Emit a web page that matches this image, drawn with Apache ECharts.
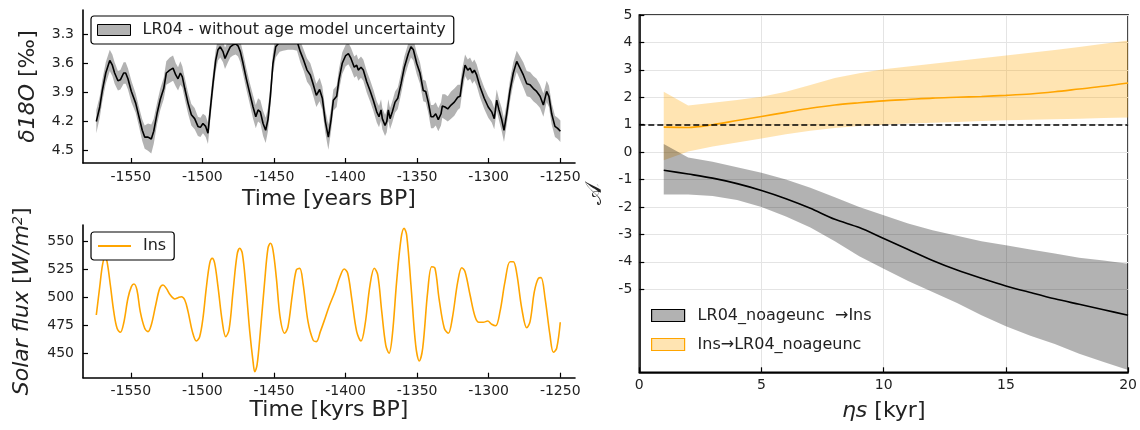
<!DOCTYPE html>
<html><head><meta charset="utf-8">
<script src="https://cdn.jsdelivr.net/npm/echarts@6/dist/echarts.min.js"></script>
<style>html,body{margin:0;padding:0;background:#fff}#c{width:1140px;height:430px}</style>
</head><body><div id="c"></div>
<script>
// ---------- DATA ----------
// LR04 d18O: [year BP (kyr), mean, half-width of uncertainty band]
const lr04 = [
[-1574.1,4.20,0.12],[-1571.7,4.05,0.11],[-1569.9,3.88,0.11],[-1567.5,3.70,0.11],[-1564.7,3.57,0.11],
[-1562.9,3.62,0.11],[-1561.3,3.70,0.11],[-1559.0,3.78,0.10],[-1557.3,3.77,0.10],[-1555.0,3.70,0.11],
[-1553.6,3.70,0.11],[-1552.0,3.76,0.11],[-1549.6,3.89,0.11],[-1546.6,4.01,0.10],[-1544.3,4.15,0.10],
[-1542.0,4.29,0.11],[-1540.3,4.36,0.12],[-1538.0,4.36,0.14],[-1535.7,4.38,0.15],[-1534.0,4.30,0.13],
[-1531.7,4.12,0.11],[-1529.4,3.97,0.11],[-1527.0,3.86,0.11],[-1525.2,3.70,0.12],[-1522.8,3.67,0.13],
[-1520.5,3.65,0.13],[-1518.6,3.72,0.12],[-1517.0,3.76,0.12],[-1515.4,3.70,0.12],[-1514.0,3.74,0.11],
[-1512.3,3.86,0.11],[-1510.0,4.01,0.11],[-1507.7,4.13,0.11],[-1505.4,4.17,0.11],[-1503.1,4.25,0.10],
[-1501.4,4.26,0.10],[-1499.6,4.22,0.10],[-1497.7,4.25,0.11],[-1496.1,4.32,0.11],[-1494.5,4.08,0.11],
[-1492.6,3.81,0.11],[-1490.7,3.57,0.11],[-1489.1,3.46,0.11],[-1487.5,3.43,0.11],[-1485.6,3.48,0.11],
[-1484.2,3.55,0.11],[-1482.1,3.48,0.11],[-1480.5,3.43,0.11],[-1478.6,3.41,0.11],[-1476.7,3.40,0.11],
[-1475.1,3.42,0.11],[-1473.5,3.48,0.11],[-1471.6,3.60,0.11],[-1469.3,3.76,0.11],[-1466.9,3.91,0.11],
[-1464.6,4.05,0.12],[-1462.7,4.15,0.12],[-1461.1,4.08,0.12],[-1459.5,4.10,0.12],[-1457.6,4.22,0.13],
[-1455.8,4.29,0.13],[-1454.2,4.18,0.12],[-1452.5,3.94,0.11],[-1450.7,3.60,0.11],[-1448.8,3.43,0.11],
[-1446.0,3.38,0.10],[-1443.7,3.37,0.10],[-1440.2,3.36,0.10],[-1436.7,3.36,0.10],[-1433.9,3.37,0.10],
[-1431.6,3.48,0.11],[-1429.2,3.57,0.11],[-1426.9,3.67,0.12],[-1424.6,3.72,0.12],[-1422.7,3.81,0.12],
[-1420.4,3.93,0.12],[-1418.1,3.87,0.12],[-1416.2,3.96,0.12],[-1414.1,4.20,0.12],[-1412.0,4.36,0.13],
[-1410.1,4.18,0.12],[-1408.5,3.98,0.11],[-1406.2,3.94,0.11],[-1404.6,3.77,0.11],[-1402.3,3.60,0.11],
[-1399.9,3.52,0.11],[-1398.0,3.50,0.11],[-1396.2,3.55,0.11],[-1393.9,3.64,0.11],[-1392.2,3.62,0.11],
[-1391.1,3.67,0.11],[-1389.2,3.64,0.11],[-1387.6,3.67,0.11],[-1385.2,3.79,0.11],[-1382.9,3.88,0.11],
[-1380.6,3.98,0.11],[-1378.2,4.10,0.11],[-1376.6,4.15,0.11],[-1375.2,4.08,0.11],[-1374.3,4.17,0.11],
[-1372.4,4.24,0.11],[-1371.2,4.20,0.11],[-1370.1,4.08,0.11],[-1368.9,4.17,0.11],[-1367.3,4.10,0.11],
[-1365.4,4.00,0.11],[-1363.5,3.96,0.11],[-1361.2,3.81,0.11],[-1358.9,3.64,0.11],[-1356.1,3.50,0.11],
[-1354.3,3.43,0.11],[-1352.6,3.46,0.11],[-1350.3,3.60,0.11],[-1348.0,3.70,0.11],[-1345.7,3.88,0.11],
[-1344.0,3.89,0.11],[-1342.2,4.00,0.11],[-1340.3,4.15,0.12],[-1338.7,4.15,0.12],[-1337.0,4.12,0.12],
[-1335.2,4.18,0.12],[-1333.3,4.12,0.12],[-1332.4,4.04,0.12],[-1330.5,4.05,0.13],[-1328.6,4.07,0.13],
[-1326.3,4.03,0.14],[-1324.0,4.00,0.14],[-1321.6,3.95,0.13],[-1320.0,3.94,0.12],[-1318.4,3.77,0.12],
[-1316.5,3.62,0.11],[-1314.6,3.67,0.11],[-1313.0,3.65,0.11],[-1311.4,3.70,0.11],[-1310.0,3.67,0.11],
[-1308.4,3.72,0.11],[-1306.1,3.84,0.11],[-1303.1,3.96,0.11],[-1300.3,4.05,0.11],[-1297.9,4.10,0.11],
[-1296.1,4.17,0.11],[-1294.4,3.98,0.11],[-1292.8,4.08,0.11],[-1290.9,4.18,0.12],[-1289.3,4.29,0.12],
[-1287.4,4.12,0.11],[-1285.1,3.88,0.11],[-1282.8,3.70,0.11],[-1280.4,3.58,0.11],[-1278.1,3.65,0.12],
[-1275.8,3.72,0.13],[-1273.4,3.81,0.13],[-1271.1,3.82,0.13],[-1268.8,3.86,0.13],[-1266.5,3.89,0.13],
[-1264.1,3.94,0.12],[-1261.8,4.03,0.12],[-1259.5,3.89,0.11],[-1257.9,3.94,0.11],[-1256.0,4.12,0.11],
[-1253.7,4.25,0.11],[-1251.8,4.27,0.11],[-1249.9,4.30,0.11]
];
// Insolation: [year BP (kyr), W/m^2]
const ins = [
[-1574.1,484.3],[-1571.7,509.7],[-1569.8,529.1],[-1568.0,536.6],[-1566.6,532.1],[-1564.3,511.2],
[-1561.9,487.3],[-1559.6,472.4],[-1557.3,468.8],[-1555.0,476.9],[-1552.0,499.3],[-1549.6,509.7],
[-1547.8,512.1],[-1545.7,506.7],[-1543.4,487.3],[-1540.3,472.4],[-1538.0,469.4],[-1535.7,475.4],
[-1532.6,493.3],[-1529.8,508.2],[-1527.5,511.2],[-1525.2,508.2],[-1522.4,502.2],[-1519.3,498.7],
[-1517.0,499.8],[-1514.7,500.7],[-1512.3,497.8],[-1510.0,487.3],[-1507.0,469.4],[-1504.2,461.0],
[-1501.9,464.9],[-1499.6,481.4],[-1497.3,508.2],[-1494.9,530.6],[-1493.1,535.1],[-1491.4,530.6],
[-1489.1,509.7],[-1486.1,478.3],[-1483.7,464.9],[-1481.4,470.9],[-1478.6,505.2],[-1475.8,538.1],
[-1473.9,544.1],[-1472.1,539.6],[-1469.7,511.2],[-1466.9,469.4],[-1464.6,442.5],[-1463.4,433.5],
[-1461.8,439.5],[-1459.5,469.4],[-1456.5,514.2],[-1454.2,544.1],[-1452.5,548.6],[-1450.7,542.6],
[-1448.3,517.2],[-1445.6,481.4],[-1442.5,467.9],[-1440.2,473.8],[-1437.2,502.2],[-1434.4,524.6],
[-1432.0,526.1],[-1429.7,512.7],[-1426.2,478.3],[-1422.7,461.9],[-1420.4,460.4],[-1417.6,469.4],
[-1414.4,481.0],[-1411.5,492.0],[-1407.4,505.2],[-1403.9,518.6],[-1400.9,525.5],[-1398.5,521.7],
[-1395.7,499.3],[-1392.2,469.4],[-1389.2,461.0],[-1386.4,475.4],[-1382.9,511.2],[-1379.9,526.2],
[-1377.5,520.2],[-1374.7,487.3],[-1371.9,457.4],[-1369.6,450.0],[-1367.3,466.4],[-1364.3,514.2],
[-1361.2,553.0],[-1359.1,562.0],[-1357.3,556.0],[-1354.3,511.2],[-1351.0,457.4],[-1348.5,443.1],
[-1346.1,454.5],[-1342.6,505.2],[-1339.8,527.6],[-1337.5,526.2],[-1334.7,499.3],[-1331.0,472.4],
[-1328.2,467.9],[-1325.4,481.4],[-1321.6,514.2],[-1318.8,526.7],[-1316.5,523.1],[-1313.0,502.2],
[-1309.5,482.8],[-1306.8,477.8],[-1303.8,477.8],[-1300.7,478.9],[-1297.9,476.0],[-1295.1,474.7],
[-1292.1,487.3],[-1288.6,514.2],[-1285.1,532.1],[-1282.8,532.1],[-1280.4,521.7],[-1276.9,490.3],
[-1273.4,472.9],[-1271.1,478.3],[-1268.1,505.2],[-1265.3,517.2],[-1263.4,517.8],[-1260.6,499.3],
[-1257.2,466.4],[-1254.8,450.9],[-1252.5,454.5],[-1250.0,477.8]
];
// Transfer entropy vs eta_s (kyr)
const eta = [1,2,3,4,5,6,7,8,9,10,11,12,13,14,15,16,17,18,19,20];
const lr04ToIns    = [-0.66,-0.80,-0.95,-1.15,-1.40,-1.70,-2.05,-2.45,-2.75,-3.15,-3.55,-3.95,-4.30,-4.60,-4.88,-5.12,-5.35,-5.55,-5.75,-5.95];
const lr04ToInsHi  = [0.30,-0.20,-0.35,-0.55,-0.75,-1.00,-1.30,-1.65,-2.00,-2.30,-2.60,-2.85,-3.05,-3.25,-3.40,-3.55,-3.70,-3.85,-3.95,-4.07];
const lr04ToInsLo  = [-1.55,-1.55,-1.60,-1.75,-2.00,-2.35,-2.75,-3.25,-3.80,-4.25,-4.70,-5.10,-5.50,-5.95,-6.35,-6.70,-7.00,-7.35,-7.65,-7.95];
const insToLr04    = [0.91,0.90,1.00,1.15,1.30,1.45,1.60,1.72,1.80,1.87,1.92,1.97,2.00,2.03,2.07,2.12,2.20,2.30,2.40,2.52];
const insToLr04Hi  = [2.20,1.70,1.80,1.90,2.02,2.20,2.45,2.70,2.88,3.02,3.12,3.22,3.32,3.42,3.52,3.62,3.72,3.83,3.95,4.07];
const insToLr04Lo  = [-0.30,0.02,0.20,0.35,0.50,0.65,0.78,0.88,0.95,1.00,1.04,1.07,1.10,1.13,1.16,1.18,1.20,1.22,1.24,1.26];
const timeTicks = [-1550,-1500,-1450,-1400,-1350,-1300,-1250];
const d18oTicks = [3.3,3.6,3.9,4.2,4.5];
const insTicks = [450,475,500,525,550];
const teTicks = [-5,-4,-3,-2,-1,0,1,2,3,4,5];
const teThreshold = 1;

// ---------- CHART ----------
const FONT = 'DejaVu Sans';
const TXT = '#222';
const ORANGE = '#FFA500';
const ORANGE_FILL = 'rgba(255,165,0,0.3)';
const GRAY_FILL = 'rgba(0,0,0,0.3)';

function band(name, xs, lo, hi, fill, gi) {
  return {
    type: 'custom', name: name, xAxisIndex: gi, yAxisIndex: gi, silent: true, z: 1,
    itemStyle: {color: fill},
    data: xs.map((x, i) => [x, lo[i], hi[i]]),
    encode: {x: 0, y: [1, 2]},
    renderItem: function (params, api) {
      if (params.dataIndex !== 0) return null;
      const pts = [];
      for (let i = 0; i < xs.length; i++) pts.push(api.coord([xs[i], hi[i]]));
      for (let i = xs.length - 1; i >= 0; i--) pts.push(api.coord([xs[i], lo[i]]));
      return {type: 'polygon', shape: {points: pts}, style: {fill: fill}};
    }
  };
}

const axLine = {show: true, onZero: false, lineStyle: {color: '#000', width: 1.6}};
function tick(vals) { return {show: true, inside: true, length: 5, customValues: vals, lineStyle: {color: '#000', width: 1.2}}; }
function lab(vals, margin, fmt) { return {customValues: vals, margin: margin, fontSize: 14, color: TXT, fontFamily: FONT, formatter: fmt}; }

const lrYears = lr04.map(d => d[0]);
const lrLo = lr04.map(d => d[1] - d[2]);
const lrHi = lr04.map(d => d[1] + d[2]);

const LEG1 = 'LR04 - without age model uncertainty';
const LEG3a = 'LR04_noageunc  \u2192Ins';
const LEG3b = 'Ins\u2192LR04_noageunc';
const NAME_FS = 22;
const italic = {fontSize: NAME_FS, fontStyle: 'italic', color: TXT, fontFamily: FONT};

const option = {
  animation: false,
  textStyle: {fontFamily: FONT},
  grid: [
    {left: 83, top: 10, width: 492, height: 153},
    {left: 83, top: 225, width: 492, height: 152.7},
    {left: 639.3, top: 15, width: 490.7, height: 357.3, show: true, borderColor: '#000', borderWidth: 1.6}
  ],
  xAxis: [
    {type: 'value', gridIndex: 0, min: -1583.4, max: -1239.7, axisLine: axLine, axisTick: tick(timeTicks),
     axisLabel: lab(timeTicks, 7, v => String(v)), splitLine: {show: false},
     name: 'Time [years BP]', nameLocation: 'middle', nameGap: 25,
     nameTextStyle: {fontSize: NAME_FS, color: TXT, fontFamily: FONT}},
    {type: 'value', gridIndex: 1, min: -1583.4, max: -1239.7, axisLine: axLine, axisTick: tick(timeTicks),
     axisLabel: lab(timeTicks, 7, v => String(v)), splitLine: {show: false},
     name: 'Time [kyrs BP]', nameLocation: 'middle', nameGap: 21,
     nameTextStyle: {fontSize: NAME_FS, color: TXT, fontFamily: FONT}},
    {type: 'value', gridIndex: 2, min: 0, max: 20, interval: 5, axisLine: axLine,
     axisTick: {show: true, inside: true, length: 5, lineStyle: {color: '#000', width: 1.2}},
     axisLabel: {margin: 6, fontSize: 14, color: TXT, fontFamily: FONT},
     splitLine: {show: true, lineStyle: {color: '#e4e4e4', width: 1}},
     name: '{i|\u03b7s} [kyr]', nameLocation: 'middle', nameGap: 28,
     nameTextStyle: {fontSize: NAME_FS, color: TXT, fontFamily: FONT, rich: {i: italic}}}
  ],
  yAxis: [
    {type: 'value', gridIndex: 0, inverse: true, min: 3.051, max: 4.627, axisLine: axLine, axisTick: tick(d18oTicks),
     axisLabel: lab(d18oTicks, 9, v => v.toFixed(1)), splitLine: {show: false},
     name: '{i|\u03b418O} [\u2030]', nameLocation: 'middle', nameGap: 44,
     nameTextStyle: {fontSize: NAME_FS, color: TXT, fontFamily: FONT, rich: {i: italic}}},
    {type: 'value', gridIndex: 1, min: 428.1, max: 565.0, axisLine: axLine, axisTick: tick(insTicks),
     axisLabel: lab(insTicks, 9, v => String(v)), splitLine: {show: false},
     name: '{i|Solar flux} [{i|W/m}{s|2}]', nameLocation: 'middle', nameGap: 50,
     nameTextStyle: {fontSize: NAME_FS, color: TXT, fontFamily: FONT,
       rich: {i: italic,
              s: {fontSize: 14, fontStyle: 'italic', color: TXT, fontFamily: FONT, verticalAlign: 'top', lineHeight: 13}}}},
    {type: 'value', gridIndex: 2, min: -8.03, max: 5, axisLine: axLine, axisTick: tick(teTicks),
     axisLabel: lab(teTicks, 7, v => String(v)),
     splitLine: {show: true, customValues: teTicks, lineStyle: {color: '#e4e4e4', width: 1}},
     name: '\ud835\udc9c', nameLocation: 'middle', nameGap: 33,
     nameTextStyle: {fontSize: 23, color: TXT, fontFamily: FONT}}
  ],
  legend: [
    {left: 91, top: 16, itemWidth: 33, itemHeight: 11, backgroundColor: '#fff', borderColor: '#000', borderWidth: 1.2,
     borderRadius: 3, padding: [6, 8, 6, 6], z: 10, selectedMode: false,
     textStyle: {fontSize: 16, color: TXT, fontFamily: FONT, padding: [0, 0, 0, 7]},
     data: [{name: LEG1, icon: 'rect', itemStyle: {color: GRAY_FILL, borderColor: '#000', borderWidth: 1}}]},
    {left: 91, top: 232, itemWidth: 33, itemHeight: 11, backgroundColor: '#fff', borderColor: '#000', borderWidth: 1.2,
     borderRadius: 3, padding: [6, 8, 6, 6], z: 10, selectedMode: false,
     textStyle: {fontSize: 16, color: TXT, fontFamily: FONT, padding: [0, 0, 0, 7]},
     data: [{name: 'Ins', itemStyle: {opacity: 0}}]},
    {left: 651, top: 307, orient: 'vertical', itemWidth: 33, itemHeight: 12, itemGap: 12, padding: 0, selectedMode: false,
     textStyle: {fontSize: 16, color: TXT, fontFamily: FONT, padding: [0, 0, 0, 8], lineHeight: 17},
     data: [{name: LEG3a, icon: 'rect', itemStyle: {color: GRAY_FILL, borderColor: '#000', borderWidth: 1.2}},
            {name: LEG3b, icon: 'rect', itemStyle: {color: ORANGE_FILL, borderColor: ORANGE, borderWidth: 1.2}}]}
  ],
  series: [
    band(LEG1, lrYears, lrLo, lrHi, GRAY_FILL, 0),
    {type: 'line', name: 'LR04 mean', xAxisIndex: 0, yAxisIndex: 0, data: lr04.map(d => [d[0], d[1]]),
     showSymbol: false, symbol: 'none', lineStyle: {color: '#000', width: 1.6}, z: 3, silent: true},
    {type: 'line', name: 'Ins', xAxisIndex: 1, yAxisIndex: 1, data: ins, smooth: 0.35,
     showSymbol: false, symbol: 'none', itemStyle: {color: ORANGE}, lineStyle: {color: ORANGE, width: 1.6}, z: 3, silent: true},
    band(LEG3b, eta, insToLr04Lo, insToLr04Hi, ORANGE_FILL, 2),
    band(LEG3a, eta, lr04ToInsLo, lr04ToInsHi, GRAY_FILL, 2),
    {type: 'line', name: 'ins line', xAxisIndex: 2, yAxisIndex: 2, data: eta.map((x, i) => [x, insToLr04[i]]),
     smooth: 0.3, symbol: 'none', lineStyle: {color: ORANGE, width: 1.6}, z: 3, silent: true,
     markLine: {silent: true, symbol: 'none', label: {show: false},
       lineStyle: {color: '#000', type: [6, 3], width: 1.5}, data: [{yAxis: teThreshold}]}},
    {type: 'line', name: 'lr line', xAxisIndex: 2, yAxisIndex: 2, data: eta.map((x, i) => [x, lr04ToIns[i]]),
     smooth: 0.3, symbol: 'none', lineStyle: {color: '#000', width: 1.6}, z: 3, silent: true}
  ]
};
const chart = echarts.init(document.getElementById('c'), null, {renderer: 'canvas'});
chart.setOption(option);
</script></body></html>
